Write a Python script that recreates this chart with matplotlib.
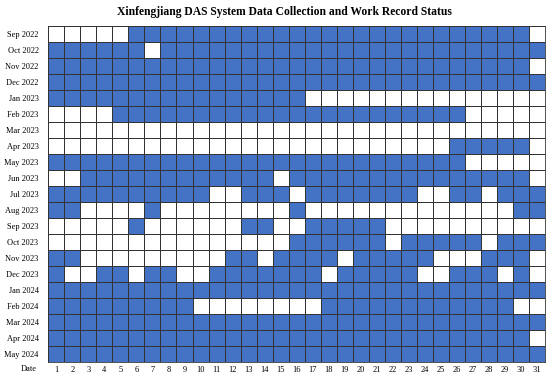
import matplotlib
matplotlib.use("Agg")
import matplotlib.pyplot as plt
import numpy as np
from matplotlib.colors import ListedColormap

title = "Xinfengjiang DAS System Data Collection and Work Record Status"

months = ["Sep 2022", "Oct 2022", "Nov 2022", "Dec 2022", "Jan 2023", "Feb 2023",
          "Mar 2023", "Apr 2023", "May 2023", "Jun 2023", "Jul 2023", "Aug 2023",
          "Sep 2023", "Oct 2023", "Nov 2023", "Dec 2023", "Jan 2024", "Feb 2024",
          "Mar 2024", "Apr 2024", "May 2024"]

days = list(range(1, 32))

# 1 = data collected / work recorded (blue), 0 = none (white); day 1..31
status_rows = [
    "0000011111111111111111111111110",  # Sep 2022
    "1111110111111111111111111111111",  # Oct 2022
    "1111111111111111111111111111110",  # Nov 2022
    "1111111111111111111111111111111",  # Dec 2022
    "1111111111111111000000000000000",  # Jan 2023
    "0000111111111111111111111100000",  # Feb 2023
    "0000000000000000000000000000000",  # Mar 2023
    "0000000000000000000000000111110",  # Apr 2023
    "1111111111111111111111111100000",  # May 2023
    "0011111111111101111111111111110",  # Jun 2023
    "1111111111001110111111100110111",  # Jul 2023
    "1100001000000001000000000000011",  # Aug 2023
    "0000010000001100111110000000000",  # Sep 2023
    "0000000000000001111110111110111",  # Oct 2023
    "1100000000011011110111110001110",  # Nov 2023
    "1001101100111111101111100111010",  # Dec 2023
    "1111111111111111111111111111111",  # Jan 2024
    "1111111110000000011111111111100",  # Feb 2024
    "1111111111111111111111111111111",  # Mar 2024
    "1111111111111111111111111111110",  # Apr 2024
    "1111111111111111111111111111111",  # May 2024
]

status = np.array([[int(c) for c in row] for row in status_rows])

plt.rcParams['font.family'] = ['Liberation Serif', 'DejaVu Serif']

fig = plt.figure(figsize=(5.5, 3.78), dpi=100)
ax = fig.add_axes([48.3/550, 16/378, (545-48.3)/550, (362-26)/378])

cmap = ListedColormap(["#FFFFFF", "#4472C4"])
ax.pcolormesh(np.arange(len(days)+1), np.arange(len(months)+1), status,
              cmap=cmap, vmin=0, vmax=1, edgecolors="#333333", linewidth=0.6)
ax.set_xlim(0, len(days))
ax.set_ylim(len(months), 0)

ax.set_xticks(np.arange(len(days)) + 0.5)
ax.set_xticklabels([str(d) for d in days], fontsize=6)
ax.set_yticks(np.arange(len(months)) + 0.5)
ax.set_yticklabels(months, fontsize=6)
ax.tick_params(length=0, pad=3)
ax.tick_params(axis='y', pad=7)
for s in ax.spines.values():
    s.set_linewidth(0.6)
    s.set_color("#333333")

fig.text(28.3/550, 1-369/378, "Date", ha="center", va="center", fontsize=6)
fig.text(284/550, 1-12/378, title, ha="center", va="center", fontsize=8.4, fontweight="bold")

fig.savefig("out.png", dpi=100)
